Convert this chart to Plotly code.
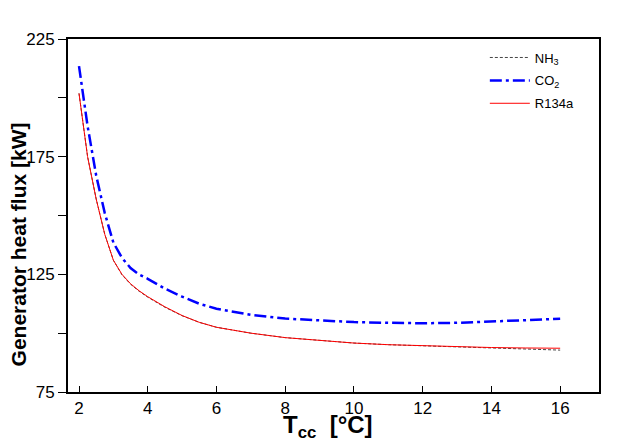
import plotly.graph_objects as go

# generator heat flux vs Tcc
t_cc = [2, 2.25, 2.5, 2.75, 3, 3.25, 3.5, 3.75, 4, 4.5, 5, 5.5, 6, 7, 8, 9, 10, 11, 12, 13, 14, 15, 16]
q_co2 = [213.5, 188, 167, 151, 138.5, 132, 127.7, 124.9, 123.1, 118.9, 115.5, 112.5, 110.4, 107.8, 106.2, 105.3, 104.7, 104.4, 104.2, 104.4, 104.9, 105.5, 106.1]
q_nh3 = [201.9, 175, 157, 142, 131, 124.8, 120.8, 117.8, 115.3, 111.0, 107.4, 104.6, 102.5, 100.0, 98.1, 96.8, 95.8, 95.1, 94.6, 94.1, 93.6, 93.2, 92.8]
q_r134a = [201.9, 175, 157, 142, 131, 125, 121, 118, 115.5, 111.2, 107.5, 104.6, 102.5, 100.0, 98.1, 96.8, 95.8, 95.1, 94.6, 94.2, 93.9, 93.7, 93.6]

x_ticks = [2, 4, 6, 8, 10, 12, 14, 16]
y_ticks = [75, 100, 125, 150, 175, 200, 225]
y_labels = ['75', '', '125', '', '175', '', '225']

font = 'Liberation Sans, Arial, sans-serif'

fig = go.Figure()
fig.add_trace(go.Scatter(x=t_cc, y=q_nh3, name='NH<sub>3</sub>', mode='lines', legendgroup='a',
                         line=dict(color='#444444', width=1, dash='3px,2px')))
fig.add_trace(go.Scatter(x=t_cc, y=q_co2, name='CO<sub>2</sub>', mode='lines', legendgroup='b',
                         line=dict(color='#0000ff', width=2.5, dash='12px,4px,3px,4px')))
fig.add_trace(go.Scatter(x=t_cc, y=q_r134a, name='R134a', mode='lines', legendgroup='c',
                         line=dict(color='#ff0000', width=1)))

# page body adds 8px, so the figure is 8px smaller and margins shifted
fig.update_layout(
    width=632, height=433,
    margin=dict(l=60, r=41, t=31, b=49, autoexpand=False),
    paper_bgcolor='white', plot_bgcolor='white',
    font=dict(family=font, size=17, color='black'),
    showlegend=True,
    legend=dict(x=0.785, y=0.99, xanchor='left', yanchor='top',
                bgcolor='rgba(0,0,0,0)', font=dict(size=13),
                tracegroupgap=3, itemwidth=40),
    xaxis=dict(range=[1.68, 17.13], tickvals=x_ticks, ticks='inside', ticklen=6,
               tickcolor='black', showline=True, linecolor='black', linewidth=2,
               mirror=True, showgrid=False, zeroline=False),
    yaxis=dict(range=[75, 225], tickvals=y_ticks, ticktext=y_labels, ticks='outside', ticklen=8,
               tickcolor='black', showline=True, linecolor='black', linewidth=2,
               mirror=True, showgrid=False, zeroline=False),
    xaxis2=dict(range=[1.68, 17.13], tickvals=x_ticks, overlaying='x', side='top',
                ticks='inside', ticklen=6, tickcolor='black', showticklabels=False,
                showgrid=False, zeroline=False),
    yaxis2=dict(range=[75, 225], tickvals=y_ticks, overlaying='y', side='right',
                ticks='inside', ticklen=5, tickcolor='black', showticklabels=False,
                showgrid=False, zeroline=False),
    annotations=[
        dict(text='<b>T<sub>cc</sub> &nbsp;[°C]</b>', xref='paper', yref='paper',
             x=0.49, y=-0.099, xanchor='center', yanchor='middle', showarrow=False,
             font=dict(size=24)),
        dict(text='<b>Generator heat flux [kW]</b>', xref='paper', yref='paper',
             x=-0.093, y=0.417, xanchor='center', yanchor='middle', showarrow=False,
             textangle=-90, font=dict(size=21)),
    ],
)

fig.write_html("out.html")
